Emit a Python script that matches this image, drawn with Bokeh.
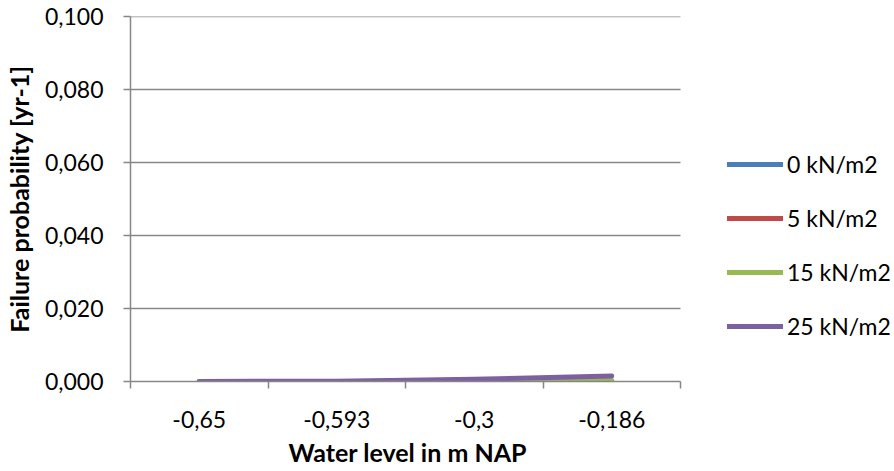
from bokeh.plotting import figure
from bokeh.models import (Range1d, LinearAxis, FixedTicker, Legend, LegendItem,
                          Title)
from bokeh.embed import file_html
from bokeh.resources import INLINE

# ---- data ----
categories = ["-0,65", "-0,593", "-0,3", "-0,186"]
series_names = ["0 kN/m2", "5 kN/m2", "15 kN/m2", "25 kN/m2"]
s0 = [0.0, 0.0, 0.0, 0.0]
s5 = [0.0, 0.0, 0.0, 0.0001]
s15 = [0.0, 0.0, 0.0001, 0.0003]
s25 = [0.0, 0.0001, 0.0006, 0.0015]
y_ticks = [0.0, 0.02, 0.04, 0.06, 0.08, 0.10]
y_tick_labels = ["0,000", "0,020", "0,040", "0,060", "0,080", "0,100"]
x_title = "Water level in m NAP"
y_title = "Failure probability [yr-1]"

colors = ["#4A7EBB", "#BE4B48", "#98B954", "#7D60A0"]
FONT = "Lato"
GRAY = "#868686"

W, H = 894, 471
PLOT_LEFT, PLOT_RIGHT, PLOT_TOP, PLOT_BOTTOM = 130, 680, 16, 381

n = len(categories)
xs = [i + 0.5 for i in range(n)]
boundaries = list(range(n + 1))
# frame extends to the right edge (legend lives there); data area is 0..n
x_end = n * (W - PLOT_LEFT) / (PLOT_RIGHT - PLOT_LEFT)

p = figure(width=W, height=H, output_backend="svg", toolbar_location=None,
           x_range=Range1d(0, x_end), y_range=Range1d(0, 0.1),
           x_axis_type=None, y_axis_type=None,
           min_border_left=PLOT_LEFT, min_border_right=0,
           min_border_top=PLOT_TOP, min_border_bottom=H - PLOT_BOTTOM)
p.outline_line_color = None
p.background_fill_color = "white"
p.border_fill_color = "white"

yaxis = LinearAxis(
    ticker=FixedTicker(ticks=y_ticks),
    major_label_overrides={t: l for t, l in zip(y_ticks, y_tick_labels)},
    axis_line_color=GRAY, axis_line_width=1.5,
    major_tick_line_color=GRAY, major_tick_line_width=1.5,
    major_tick_out=7, major_tick_in=0, minor_tick_out=0, minor_tick_in=0,
    major_label_text_font=FONT, major_label_text_font_size="23px",
    major_label_text_color="black", major_label_standoff=20,
    axis_label=y_title, axis_label_text_font=FONT,
    axis_label_text_font_size="25px", axis_label_text_font_style="bold",
    axis_label_text_color="black", axis_label_standoff=8)
p.add_layout(yaxis, "left")

# horizontal gridlines across the category area only
p.segment(x0=[0] * (len(y_ticks) - 1), x1=[n] * (len(y_ticks) - 1),
          y0=y_ticks[1:], y1=y_ticks[1:], line_color=GRAY, line_width=1.5)

xaxis = LinearAxis(
    ticker=FixedTicker(ticks=xs, minor_ticks=boundaries),
    major_label_overrides={x: c for x, c in zip(xs, categories)},
    bounds=(0, n),
    axis_line_color=GRAY, axis_line_width=1.5,
    major_tick_out=0, major_tick_in=0,
    minor_tick_out=7, minor_tick_in=0,
    minor_tick_line_color=GRAY, minor_tick_line_width=1.5,
    major_label_text_font=FONT, major_label_text_font_size="23px",
    major_label_text_color="black", major_label_standoff=22)
p.add_layout(xaxis, "below")

# x-axis title centred under the category area (not under the legend)
p.add_layout(Title(text=x_title, align="left", offset=158, standoff=9,
                   text_font=FONT, text_font_size="25px",
                   text_font_style="bold", text_color="black"), "below")

renderers = []
for ys, c in zip([s0, s5, s15, s25], colors):
    r = p.line(xs, ys, line_color=c, line_width=5, line_cap="round",
               line_join="round")
    renderers.append(r)

legend = Legend(
    items=[LegendItem(label=nm, renderers=[r]) for nm, r in zip(series_names, renderers)],
    location=(597, 41), orientation="vertical",
    glyph_width=56, glyph_height=20, label_height=20, label_standoff=4,
    spacing=26, padding=0, margin=0,
    border_line_color=None, background_fill_alpha=0,
    label_text_font=FONT, label_text_font_size="23px", label_text_color="black")
p.add_layout(legend, "center")

open("out.html", "w").write(file_html(p, INLINE))
